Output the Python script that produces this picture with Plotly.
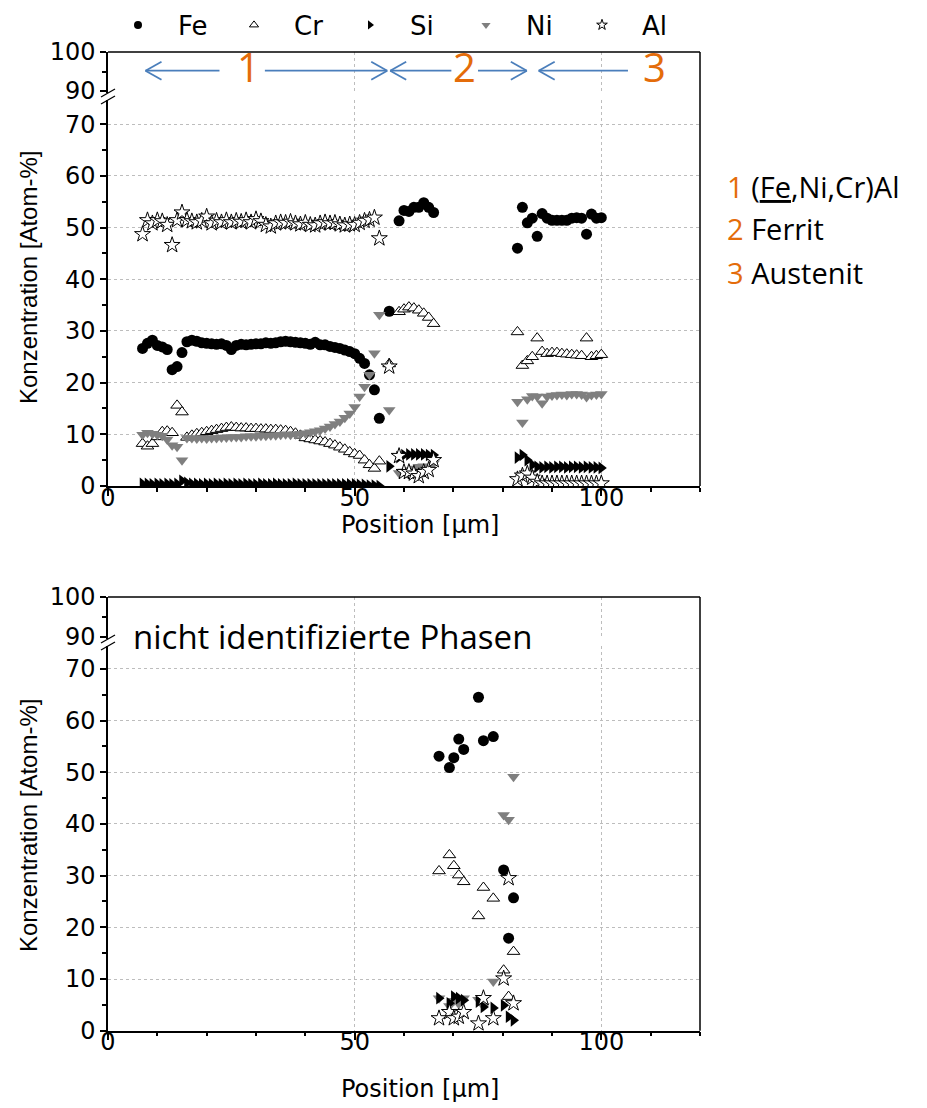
import plotly.graph_objects as go

W, H = 927, 1108
OFF = 8  # page body margin in the browser

# ---------------- data: top panel (line scan) ----------------
pos_top = [7, 8, 9, 10, 11, 12, 13, 14, 15, 16, 17, 18, 19, 20, 21, 22, 23, 24, 25, 26,
           27, 28, 29, 30, 31, 32, 33, 34, 35, 36, 37, 38, 39, 40, 41, 42, 43, 44, 45, 46,
           47, 48, 49, 50, 51, 52, 53, 54, 55,
           57,
           59, 60, 61, 62, 63, 64, 65, 66,
           83, 84, 85, 86, 87, 88, 89, 90, 91, 92, 93, 94, 95, 96, 97, 98, 99, 100]

fe_top = [26.6, 27.6, 28.2, 27.2, 26.9, 26.4, 22.5, 23.1, 25.8, 27.9, 28.2, 28.0, 27.7, 27.6, 27.5, 27.4, 27.5, 27.2, 26.4, 27.2,
          27.4, 27.3, 27.4, 27.5, 27.5, 27.7, 27.6, 27.7, 27.9, 28.0, 27.9, 27.8, 27.7, 27.6, 27.4, 27.8, 27.3, 27.3, 27.0, 26.8,
          26.6, 26.3, 26.0, 25.6, 24.7, 23.7, 21.5, 18.6, 13.1,
          33.8,
          51.3, 53.3, 53.1, 53.9, 53.9, 54.8, 53.9, 52.9,
          46.0, 53.9, 50.9, 51.8, 48.3, 52.7, 51.8, 51.4, 51.4, 51.4, 51.4, 51.8, 51.9, 51.8, 48.7, 52.6, 51.8, 51.9]

cr_top = [8.2, 7.7, 8.2, 9.5, 10.5, 10.6, 10.3, 15.6, 14.3, 9.4, 9.8, 10.1, 10.3, 10.5, 10.7, 10.9, 11.1, 11.3, 11.4, 11.3,
          11.2, 11.2, 11.1, 11.1, 11.0, 11.0, 10.9, 10.9, 10.8, 10.7, 10.5, 10.2, 9.8, 9.3, 9.1, 8.9, 8.7, 8.5, 8.2, 7.9,
          7.5, 7.1, 6.6, 6.2, 5.9, 5.0, 4.1, 3.4, 4.8,
          23.6,
          33.7, 34.2, 34.6, 34.4, 34.0, 33.4, 32.6, 31.4,
          29.8, 23.3, 24.2, 25.0, 28.6, 26.0, 25.6, 25.8, 25.8, 25.6, 25.5, 25.4, 25.3, 25.2, 28.6, 25.0, 25.2, 25.4]

si_top = [0.4, 0.4, 0.3, 0.4, 0.3, 0.4, 0.3, 0.4, 1.0, 0.6, 0.4, 0.4, 0.3, 0.4, 0.3, 0.4, 0.3, 0.4, 0.3, 0.4,
          0.3, 0.4, 0.3, 0.3, 0.4, 0.3, 0.3, 0.4, 0.3, 0.3, 0.3, 0.4, 0.3, 0.3, 0.3, 0.3, 0.3, 0.3, 0.3, 0.3,
          0.3, 0.3, 0.3, 0.3, 0.2, 0.2, 0.1, 0.1, 0.0,
          3.8,
          5.6, 6.0, 6.1, 6.1, 6.1, 6.1, 6.0, 6.0,
          5.5, 6.0, 5.0, 4.1, 3.7, 3.6, 3.7, 3.6, 3.7, 3.7, 3.6, 3.7, 3.7, 3.6, 3.7, 3.6, 3.6, 3.5]

ni_top = [9.9, 10.3, 10.1, 9.9, 9.7, 9.0, 7.9, 7.6, 5.0, 9.3, 9.3, 9.2, 9.3, 9.2, 9.3, 9.3, 9.4, 9.4, 9.5, 9.5,
          9.5, 9.6, 9.6, 9.6, 9.7, 9.7, 9.8, 9.8, 9.9, 10.0, 9.9, 10.0, 10.1, 10.2, 10.4, 10.6, 10.8, 11.1, 11.5, 12.0,
          12.5, 13.2, 14.0, 15.3, 17.3, 19.2, 21.5, 25.7, 33.1,
          14.7,
          2.5, 2.8, 3.1, 3.4, 3.7, 3.8, 3.7, 4.4,
          16.3, 12.3, 16.8, 17.4, 17.3, 16.0, 17.3, 17.5, 17.6, 17.7, 17.6, 17.8, 17.8, 17.7, 17.2, 17.6, 17.7, 17.8]

al_top = [48.7, 51.4, 50.8, 51.4, 51.2, 50.5, 46.6, 51.4, 52.9, 51.4, 51.2, 51.0, 51.3, 52.1, 50.8, 51.3, 51.0, 51.4, 51.0, 51.3,
          51.1, 51.4, 51.0, 51.6, 51.2, 50.5, 50.2, 50.8, 51.0, 50.9, 51.1, 50.8, 50.6, 50.9, 50.5, 50.4, 50.8, 51.0, 50.8, 50.9,
          50.6, 50.4, 50.6, 50.5, 50.9, 51.3, 51.5, 51.9, 47.9,
          23.1,
          5.8, 2.7, 2.7, 2.4, 1.9, 2.7, 3.1, 5.0,
          1.3, 2.0, 2.4, 1.6, 0.8, 0.5, 0.5, 0.5, 0.5, 0.5, 0.5, 0.5, 0.5, 0.5, 0.5, 0.5, 0.5, 0.5]

# ---------------- data: bottom panel (unidentified phases) ----------------
pos_bot = [67.1, 69.2, 70.1, 71.1, 72.1, 75.1, 76.1, 78.1, 80.2, 81.2, 82.2]
fe_bot = [53.1, 50.9, 52.8, 56.4, 54.4, 64.5, 56.1, 56.9, 31.1, 17.9, 25.7]
cr_bot = [30.9, 34.0, 31.9, 30.1, 28.8, 22.2, 27.7, 25.6, 11.7, 6.6, 15.3]
si_bot = [6.3, 5.3, 6.6, 6.3, 5.9, 5.6, 4.6, 4.4, 4.9, 2.7, 2.0]
ni_bot = [6.3, 4.8, 5.8, 5.2, 6.3, 6.0, 4.8, 9.5, 41.7, 40.8, 49.1]
al_bot = [2.4, 3.6, 2.4, 2.7, 3.6, 1.4, 6.3, 2.4, 10.1, 29.5, 5.3]

elements = ["Fe", "Cr", "Si", "Ni", "Al"]
draw_order = ["Fe", "Cr", "Ni", "Si", "Al"]
top_vals = {"Fe": fe_top, "Cr": cr_top, "Si": si_top, "Ni": ni_top, "Al": al_top}
bot_vals = {"Fe": fe_bot, "Cr": cr_bot, "Si": si_bot, "Ni": ni_bot, "Al": al_bot}

# region annotations (arrows in data-x units)
region_labels = ["1", "2", "3"]
region_label_x = [28.4, 72.2, 110.8]
arrow_tail = [22.6, 31.8, 69.6, 75.0, 105.4]
arrow_tip = [7.6, 56.6, 57.2, 84.9, 87.3]

phase_lines = ['<span style="color:#E46C0A">1</span> (<span style="text-decoration:underline">Fe</span>,Ni,Cr)Al',
               '<span style="color:#E46C0A">2</span> Ferrit',
               '<span style="color:#E46C0A">3</span> Austenit']

# ---------------- styling ----------------
STY = {
    "Fe": dict(symbol="circle", size=11, color="black", line=dict(width=0)),
    "Cr": dict(symbol="triangle-up", size=11, color="white", line=dict(color="black", width=1)),
    "Si": dict(symbol="triangle-right", size=11, color="black", line=dict(width=0)),
    "Ni": dict(symbol="triangle-down", size=11, color="#7f7f7f", line=dict(width=0)),
    "Al": dict(symbol="star", size=12, color="white", line=dict(color="black", width=1)),
}


def py(p):
    return 1 - (p - OFF) / H


def pxx(p):
    return (p - OFF) / W


X0, X1 = 108, 700
fig = go.Figure()

for el in draw_order:
    fig.add_trace(go.Scatter(x=pos_top, y=top_vals[el], mode="markers", marker=STY[el],
                             xaxis="x", yaxis="y", showlegend=False, name=el))
for el in draw_order:
    fig.add_trace(go.Scatter(x=pos_bot, y=bot_vals[el], mode="markers", marker=STY[el],
                             xaxis="x2", yaxis="y3", showlegend=False, name=el))
# empty traces so the upper broken-axis segments exist as subplots
fig.add_trace(go.Scatter(x=[None], y=[None], xaxis="x", yaxis="y2", showlegend=False, hoverinfo="skip"))
fig.add_trace(go.Scatter(x=[None], y=[None], xaxis="x2", yaxis="y4", showlegend=False, hoverinfo="skip"))
# legend entries
for el in elements:
    m = dict(STY[el])
    m["size"] = 8
    fig.add_trace(go.Scatter(x=[None], y=[None], mode="markers", marker=m, name=el,
                             xaxis="x", yaxis="y", showlegend=True))

TICKF = dict(family="DejaVu Sans", size=24, color="black")
GRID = dict(showgrid=True, gridcolor="#bdbdbd", griddash="dot", gridwidth=1)

xcommon = dict(range=[0, 120], tick0=0, dtick=50, ticks="outside", ticklen=8, tickwidth=1.5,
               tickcolor="black", showline=True, linecolor="black", linewidth=1.5, zeroline=False,
               tickfont=TICKF, automargin=False, ticklabelstandoff=-19,
               minor=dict(dtick=10, ticklen=4, ticks="outside", tickcolor="black",
                          tickwidth=1.5, showgrid=False),
               domain=[pxx(X0), pxx(X1)], **GRID)
ylow = dict(tick0=0, dtick=10, ticks="outside", ticklen=6, tickwidth=1.5, tickcolor="black",
            showline=True, linecolor="black", linewidth=1.5, zeroline=False, tickfont=TICKF, automargin=False,
            minor=dict(dtick=5, ticklen=4, ticks="outside", tickcolor="black", tickwidth=1.5, showgrid=False),
            **GRID)
yup = dict(tick0=0, dtick=10, ticks="outside", ticklen=6, tickwidth=1.5, tickcolor="black",
           showline=True, linecolor="black", linewidth=1.5, zeroline=False, tickfont=TICKF, showgrid=False,
           automargin=False,
           minor=dict(dtick=5, ticklen=4, ticks="outside", tickcolor="black", tickwidth=1.5, showgrid=False))

# panel geometry (pixels in the screenshot)
T_top, T_brk_up, T_brk_lo, T_bot = 52, 93, 100, 486
B_top, B_brk_up, B_brk_lo, B_bot = 597, 639, 646, 1030.7
S = 5.17  # px per unit in lower segment

fig.update_layout(
    width=W, height=H, margin=dict(l=0, r=0, t=0, b=0, pad=0, autoexpand=False),
    paper_bgcolor="white", plot_bgcolor="white",
    xaxis=dict(anchor="y", **xcommon),
    yaxis=dict(anchor="x", domain=[py(T_bot), py(T_brk_lo)], range=[0, (T_bot - T_brk_lo) / S], **ylow),
    yaxis2=dict(anchor="x", domain=[py(T_brk_up), py(T_top)], range=[100 - (T_brk_up - T_top) / 3.9, 100], **yup),
    xaxis2=dict(anchor="y3", **xcommon),
    yaxis3=dict(anchor="x2", domain=[py(B_bot), py(B_brk_lo)], range=[0, (B_bot - B_brk_lo) / S], **ylow),
    yaxis4=dict(anchor="x2", domain=[py(B_brk_up), py(B_top)], range=[100 - (B_brk_up - B_top) / 3.95, 100], **yup),
    legend=dict(orientation="h", x=pxx(98), xanchor="left", y=py(25), yanchor="middle",
                itemwidth=70, entrywidth=31, font=dict(family="DejaVu Sans", size=26, color="black"),
                bgcolor="rgba(0,0,0,0)", itemclick=False, itemdoubleclick=False),
    showlegend=True,
)

shapes = []
LINE = dict(color="black", width=1.5)
for (tp, bt) in [(T_top, T_bot), (B_top, B_bot)]:
    shapes.append(dict(type="line", xref="paper", yref="paper", x0=pxx(X0), x1=pxx(X1), y0=py(tp), y1=py(tp), line=LINE))
    shapes.append(dict(type="line", xref="paper", yref="paper", x0=pxx(X1), x1=pxx(X1), y0=py(tp), y1=py(bt), line=LINE))
# axis break marks
for (a, b) in [(T_brk_up, T_brk_lo), (B_brk_up, B_brk_lo)]:
    for c in (a, b):
        shapes.append(dict(type="line", xref="paper", yref="paper", x0=pxx(X0 - 7), x1=pxx(X0 + 7),
                           y0=py(c + 4), y1=py(c - 4), line=dict(color="black", width=1.3)))

# region arrows
ARROW = dict(color="#4A7EBB", width=1.8)
AY = 70.7
for tail, tip in zip(arrow_tail, arrow_tip):
    sgn = 1 if tip > tail else -1
    shapes.append(dict(type="line", xref="x", yref="paper", x0=tail, x1=tip, y0=py(AY), y1=py(AY), line=ARROW))
    for dy in (9, -9):
        shapes.append(dict(type="line", xref="x", yref="paper", xsizemode="pixel", xanchor=tip,
                           x0=0, x1=-16 * sgn, ysizemode="pixel", yanchor=py(AY), y0=0, y1=dy, line=ARROW))
fig.update_layout(shapes=shapes)

ann = []
for lab, xv in zip(region_labels, region_label_x):
    ann.append(dict(text=lab, xref="x", yref="paper", x=xv, y=py(67), showarrow=False,
                    font=dict(family="Open Sans", size=40, color="#E46C0A"), xanchor="center", yanchor="middle"))
for i, t in enumerate(phase_lines):
    ann.append(dict(text=t, xref="paper", yref="paper", x=pxx(725), y=py([187, 229, 272][i]), showarrow=False,
                    xanchor="left", yanchor="middle", font=dict(family="Open Sans", size=29, color="black")))
ann.append(dict(text="nicht identifizierte Phasen", xref="paper", yref="paper", x=pxx(131), y=py(636),
                showarrow=False, xanchor="left", yanchor="middle",
                font=dict(family="Open Sans", size=33, color="black")))
for yc in (278, 826):
    ann.append(dict(text="Konzentration [Atom-%]", textangle=-90, xref="paper", yref="paper", x=pxx(28),
                    y=py(yc), showarrow=False, xanchor="center", yanchor="middle",
                    font=dict(family="Liberation Sans", size=24, color="black")))
for yc in (525, 1089):
    ann.append(dict(text="Position [µm]", xref="paper", yref="paper", x=pxx(420), y=py(yc), showarrow=False,
                    xanchor="center", yanchor="middle", font=dict(family="DejaVu Sans", size=24, color="black")))
fig.update_layout(annotations=ann)

fig.write_html("out.html")
